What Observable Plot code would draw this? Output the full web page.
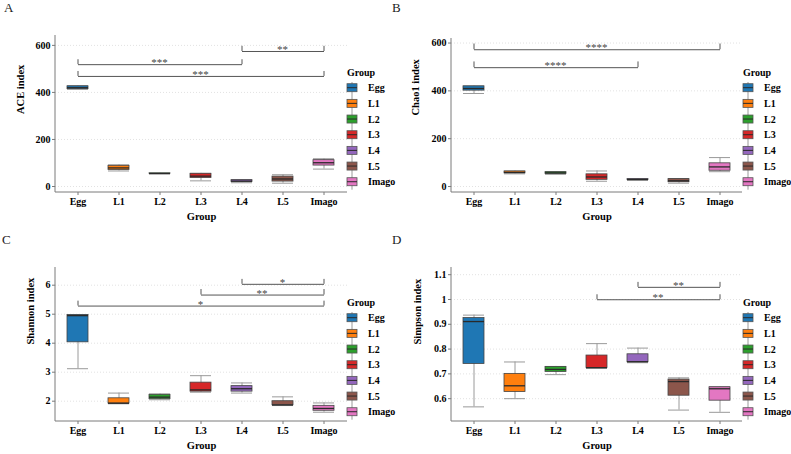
<!DOCTYPE html>
<html><head><meta charset="utf-8">
<script src="https://cdn.jsdelivr.net/npm/d3@7"></script>
<script src="https://cdn.jsdelivr.net/npm/@observablehq/plot@0.6"></script>
<style>
body{margin:0;background:#fff;}
#root{position:relative;width:791px;height:454px;overflow:hidden;background:#fff;font-family:"Liberation Serif","Times New Roman",serif;}
.abs{position:absolute;}
</style></head><body><div id="root"></div>
<script>
const categories = ["Egg","L1","L2","L3","L4","L5","Imago"];
const colors = ["#1f77b4","#ff7f0e","#2ca02c","#d62728","#9467bd","#8c564b","#e377c2"];

// Panel A: ACE index
const aceMin = [413, 66, 54, 24, 16, 14, 74];
const aceQ1  = [414, 70, 54.5, 36, 19, 21, 89];
const aceMed = [420, 79, 55, 44, 23, 32, 101];
const aceQ3  = [426, 88, 56, 54, 27, 42, 112];
const aceMax = [428, 92, 56.5, 56, 29, 50, 118];
const aceTicks = [0, 200, 400, 600];
const aceSigFrom = ["L4", "Egg", "Egg"];
const aceSigTo = ["Imago", "L4", "Imago"];
const aceSigY = [574, 518, 468];
const aceSigTop = [596, 539, 489];
const aceSigLabel = ["**", "***", "***"];

// Panel B: Chao1 index
const chaoMin = [389, 53, 51, 22, 26, 14, 62];
const chaoQ1  = [401, 55, 53, 28, 27, 18, 66];
const chaoMed = [410, 59, 57, 40, 29, 24, 82];
const chaoQ3  = [419, 63, 60, 51, 31, 31, 97];
const chaoMax = [420, 65, 62, 65, 32, 33, 121];
const chaoTicks = [0, 200, 400, 600];
const chaoSigFrom = ["Egg", "Egg"];
const chaoSigTo = ["Imago", "L4"];
const chaoSigY = [572, 497];
const chaoSigTop = [596, 521];
const chaoSigLabel = ["****", "****"];

// Panel C: Shannon index
const shanMin = [3.12, 1.91, 2.05, 2.31, 2.28, 1.85, 1.62];
const shanQ1  = [4.03, 1.92, 2.07, 2.33, 2.33, 1.86, 1.67];
const shanMed = [4.95, 1.93, 2.14, 2.39, 2.43, 1.87, 1.75];
const shanQ3  = [4.97, 2.10, 2.22, 2.64, 2.52, 2.00, 1.84];
const shanMax = [4.98, 2.28, 2.25, 2.88, 2.63, 2.15, 1.94];
const shanTicks = [2, 3, 4, 5, 6];
const shanSigFrom = ["L4", "L3", "Egg"];
const shanSigTo = ["Imago", "Imago", "Imago"];
const shanSigY = [6.03, 5.66, 5.28];
const shanSigTop = [6.20, 5.85, 5.45];
const shanSigLabel = ["*", "**", "*"];

// Panel D: Simpson index
const simpMin = [0.567, 0.600, 0.697, 0.722, 0.745, 0.554, 0.545];
const simpQ1  = [0.740, 0.627, 0.708, 0.724, 0.747, 0.612, 0.592];
const simpMed = [0.911, 0.652, 0.718, 0.725, 0.749, 0.669, 0.640];
const simpQ3  = [0.925, 0.700, 0.728, 0.774, 0.779, 0.677, 0.646];
const simpMax = [0.937, 0.748, 0.730, 0.822, 0.804, 0.684, 0.648];
const simpTicks = [0.6, 0.7, 0.8, 0.9, 1, 1.1];
const simpSigFrom = ["L4", "L3"];
const simpSigTo = ["Imago", "Imago"];
const simpSigY = [1.049, 0.999];
const simpSigTop = [1.069, 1.019];
const simpSigLabel = ["**", "**"];

const panels = [
  {letter:"A", lx:4, ly:12, left:0, top:0, width:400, height:227, ml:55, mr:53, mt:35, mb:35,
   domain:[-25.5, 642], ticks:aceTicks, title:"ACE index", titleDx:-35,
   min:aceMin, q1:aceQ1, med:aceMed, q3:aceQ3, max:aceMax,
   sigFrom:aceSigFrom, sigTo:aceSigTo, sigY:aceSigY, sigTop:aceSigTop, sigLabel:aceSigLabel,
   legLeft:340, legTop:60},
  {letter:"B", lx:392, ly:12, left:400, top:0, width:391, height:227, ml:51, mr:49, mt:38, mb:35,
   domain:[-25, 619], ticks:chaoTicks, title:"Chao1 index", titleDx:-36,
   min:chaoMin, q1:chaoQ1, med:chaoMed, q3:chaoQ3, max:chaoMax,
   sigFrom:chaoSigFrom, sigTo:chaoSigTo, sigY:chaoSigY, sigTop:chaoSigTop, sigLabel:chaoSigLabel,
   legLeft:736, legTop:60},
  {letter:"C", lx:2, ly:244, left:0, top:227, width:400, height:227, ml:55, mr:53, mt:40, mb:33,
   domain:[1.30, 6.61], ticks:shanTicks, title:"Shannon index", titleDx:-25,
   min:shanMin, q1:shanQ1, med:shanMed, q3:shanQ3, max:shanMax,
   sigFrom:shanSigFrom, sigTo:shanSigTo, sigY:shanSigY, sigTop:shanSigTop, sigLabel:shanSigLabel,
   legLeft:340, legTop:290},
  {letter:"D", lx:392, ly:244, left:400, top:227, width:391, height:227, ml:51, mr:49, mt:40, mb:33,
   domain:[0.508, 1.129], ticks:simpTicks, title:"Simpson index", titleDx:-34,
   min:simpMin, q1:simpQ1, med:simpMed, q3:simpQ3, max:simpMax,
   sigFrom:simpSigFrom, sigTo:simpSigTo, sigY:simpSigY, sigTop:simpSigTop, sigLabel:simpSigLabel,
   legLeft:736, legTop:290}
];

const FONT = '"Liberation Serif","Times New Roman",serif';

function axisLines(index, scales, values, dims) {
  const {width, height, marginLeft, marginRight, marginTop, marginBottom} = dims;
  const g = d3.create("svg:g").attr("stroke", "#7a7a7a").attr("stroke-width", 1);
  g.append("line").attr("x1", marginLeft).attr("x2", marginLeft).attr("y1", marginTop).attr("y2", height - marginBottom);
  g.append("line").attr("x1", marginLeft).attr("x2", width - marginRight).attr("y1", height - marginBottom).attr("y2", height - marginBottom);
  return g.node();
}

function starLabels(sig) {
  return (index, scales) => {
    const g = d3.create("svg:g");
    const bw = scales.x.bandwidth ? scales.x.bandwidth() : 0;
    for (const s of sig) {
      const x = (scales.x(s.from) + scales.x(s.to)) / 2 + bw / 2;
      g.append("text").attr("x", x).attr("y", scales.y(s.y) + 2)
        .attr("text-anchor", "middle").attr("fill", "#444")
        .attr("font-size", 11).attr("font-weight", "normal").attr("font-family", FONT)
        .text(s.label);
    }
    return g.node();
  };
}

const root = document.getElementById("root");

for (const p of panels) {
  const rows = categories.map((c, i) => ({cat: c, min: p.min[i], q1: p.q1[i], med: p.med[i], q3: p.q3[i], max: p.max[i]}));
  const sig = p.sigFrom.map((f, i) => ({from: f, to: p.sigTo[i], y: p.sigY[i], top: p.sigTop[i], label: p.sigLabel[i]}));
  const tips = sig.flatMap(s => [{x: s.from, y1: s.y, y2: s.top}, {x: s.to, y1: s.y, y2: s.top}]);

  const chart = Plot.plot({
    width: p.width, height: p.height,
    marginLeft: p.ml, marginRight: p.mr, marginTop: p.mt, marginBottom: p.mb,
    style: {fontFamily: FONT, fontSize: "10px", fontWeight: "bold", background: "transparent", color: "#000", overflow: "visible"},
    x: {type: "band", domain: categories, paddingInner: 0.48, paddingOuter: 0.27, label: null},
    y: {domain: p.domain, label: null},
    color: {domain: categories, range: colors},
    marks: [
      Plot.gridY(p.ticks, {stroke: "#e2e2e2", strokeOpacity: 1, strokeDasharray: "1,2"}),
      axisLines,
      Plot.axisY(p.ticks, {tickSize: 3, tickPadding: 2, stroke: "#7a7a7a", label: null, tickFormat: d => String(d)}),
      Plot.axisX({tickSize: 3, tickPadding: 2, stroke: "#7a7a7a", label: null}),
      Plot.ruleX(rows, {x: "cat", y1: "min", y2: "max", stroke: "#9a9a9a", strokeWidth: 1}),
      Plot.tickY(rows, {x: "cat", y: "min", stroke: "#9a9a9a", strokeWidth: 1}),
      Plot.tickY(rows, {x: "cat", y: "max", stroke: "#9a9a9a", strokeWidth: 1}),
      Plot.barY(rows, {x: "cat", y1: "q1", y2: "q3", fill: "cat", stroke: "#444", strokeWidth: 0.8}),
      Plot.tickY(rows, {x: "cat", y: "med", stroke: "#2a2a2a", strokeWidth: 1.3}),
      Plot.link(sig, {x1: "from", x2: "to", y1: "y", y2: "y", stroke: "#555", strokeWidth: 1}),
      Plot.ruleX(tips, {x: "x", y1: "y1", y2: "y2", stroke: "#555", strokeWidth: 1}),
      starLabels(sig),
      Plot.text([p.title], {text: d => d, frameAnchor: "left", rotate: -90, dx: p.titleDx, fontSize: 10.5, fontWeight: "bold", fill: "#000"}),
      Plot.text(["Group"], {text: d => d, frameAnchor: "bottom", dy: 27, fontSize: 10.5, fontWeight: "bold", fill: "#000"})
    ]
  });
  const wrap = document.createElement("div");
  wrap.className = "abs";
  wrap.style.left = p.left + "px";
  wrap.style.top = p.top + "px";
  wrap.appendChild(chart);
  root.appendChild(wrap);

  // legend
  const step = 15.67;
  const leg = d3.create("svg").attr("width", 60).attr("height", 140)
    .style("position", "absolute").style("left", p.legLeft + "px").style("top", p.legTop + "px")
    .style("font-family", FONT).style("font-weight", "bold").style("font-size", "10px");
  leg.append("text").attr("x", 7).attr("y", 12).attr("dominant-baseline", "central").text("Group");
  leg.append("line").attr("x1", 12).attr("x2", 12).attr("y1", 22).attr("y2", 22 + 7 * step - 2).attr("stroke", "#9a9a9a");
  categories.forEach((c, i) => {
    const cy = 27.7 + i * step;
    leg.append("rect").attr("x", 7).attr("y", cy - 4).attr("width", 10).attr("height", 8)
      .attr("fill", colors[i]).attr("stroke", "#555").attr("stroke-width", 0.8);
    leg.append("line").attr("x1", 7).attr("x2", 17).attr("y1", cy).attr("y2", cy).attr("stroke", "#2a2a2a").attr("stroke-width", 1);
    leg.append("text").attr("x", 28).attr("y", cy).attr("dominant-baseline", "central").text(c);
  });
  root.appendChild(leg.node());

  const letter = d3.create("svg").attr("width", 16).attr("height", 16)
    .style("position", "absolute").style("left", p.lx + "px").style("top", (p.ly - 12) + "px");
  letter.append("text").attr("x", 0).attr("y", 12).attr("font-family", FONT).attr("font-size", 13).attr("fill", "#222").text(p.letter);
  root.appendChild(letter.node());
}
</script>
</body></html>
